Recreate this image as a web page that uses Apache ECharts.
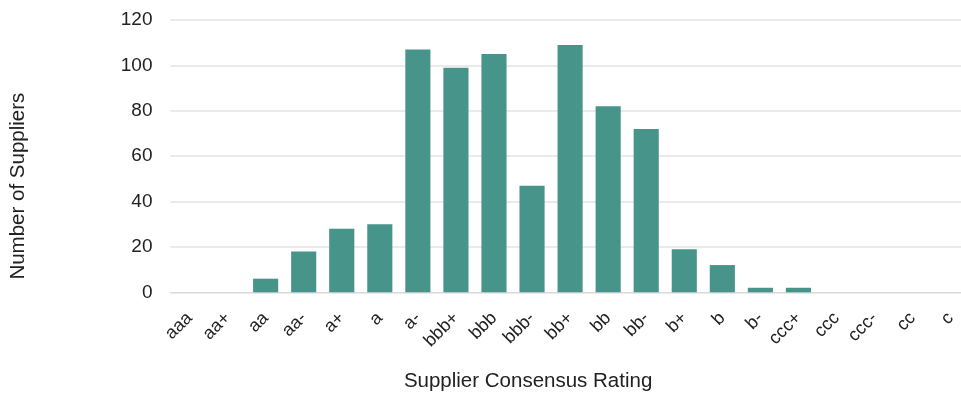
<!DOCTYPE html>
<html>
<head>
<meta charset="utf-8">
<script src="https://cdn.jsdelivr.net/npm/echarts@6/dist/echarts.min.js"></script>
<style>
  html, body { margin: 0; padding: 0; background: #ffffff; }
  #chart { width: 961px; height: 394px; }
</style>
</head>
<body>
<div id="chart"></div>
<script>
// Supplier counts per consensus rating grade
const ratings = ['aaa', 'aa+', 'aa', 'aa-', 'a+', 'a', 'a-', 'bbb+', 'bbb', 'bbb-',
  'bb+', 'bb', 'bb-', 'b+', 'b', 'b-', 'ccc+', 'ccc', 'ccc-', 'cc', 'c'];
const supplierCounts = [0, 0, 6, 18, 28, 30, 107, 99, 105, 47,
  109, 82, 72, 19, 12, 2, 2, 0, 0, 0, 0];
const yTicks = [0, 20, 40, 60, 80, 100, 120];

const font = 'Liberation Sans, Arial, sans-serif';
const chart = echarts.init(document.getElementById('chart'), null, { renderer: 'canvas' });

chart.setOption({
  animation: false,
  backgroundColor: '#ffffff',
  // plot area runs slightly past the right edge, so the last column is cut off
  grid: {
    left: 170.5, top: 20, right: -8.7, bottom: 101.7,
    containLabel: false, outerBoundsMode: 'none'
  },
  xAxis: {
    type: 'category',
    data: ratings,
    name: 'Supplier Consensus Rating',
    nameLocation: 'middle',
    nameGap: 79,
    nameTextStyle: { fontFamily: font, fontSize: 20.5, color: '#222', padding: [0, 84, 0, 0] },
    axisLine: { show: true, lineStyle: { color: '#d9d9d9', width: 1 } },
    axisTick: { show: false },
    axisLabel: { rotate: 45, margin: 23, fontFamily: font, fontSize: 18, color: '#222', interval: 0 }
  },
  yAxis: {
    type: 'value',
    min: yTicks[0],
    max: yTicks[yTicks.length - 1],
    interval: yTicks[1] - yTicks[0],
    name: 'Number of Suppliers',
    nameLocation: 'middle',
    nameRotate: 90,
    nameGap: 142,
    nameTextStyle: { fontFamily: font, fontSize: 20.5, color: '#222', padding: [0, 60, 0, 0] },
    axisLine: { show: false },
    axisTick: { show: false },
    axisLabel: { margin: 18, fontFamily: font, fontSize: 19, color: '#222' },
    splitLine: { show: true, lineStyle: { color: '#e3e3e3', width: 1.5 } }
  },
  series: [{
    type: 'bar',
    data: supplierCounts,
    barWidth: '66%',
    itemStyle: { color: '#46948a' }
  }]
});
</script>
</body>
</html>
